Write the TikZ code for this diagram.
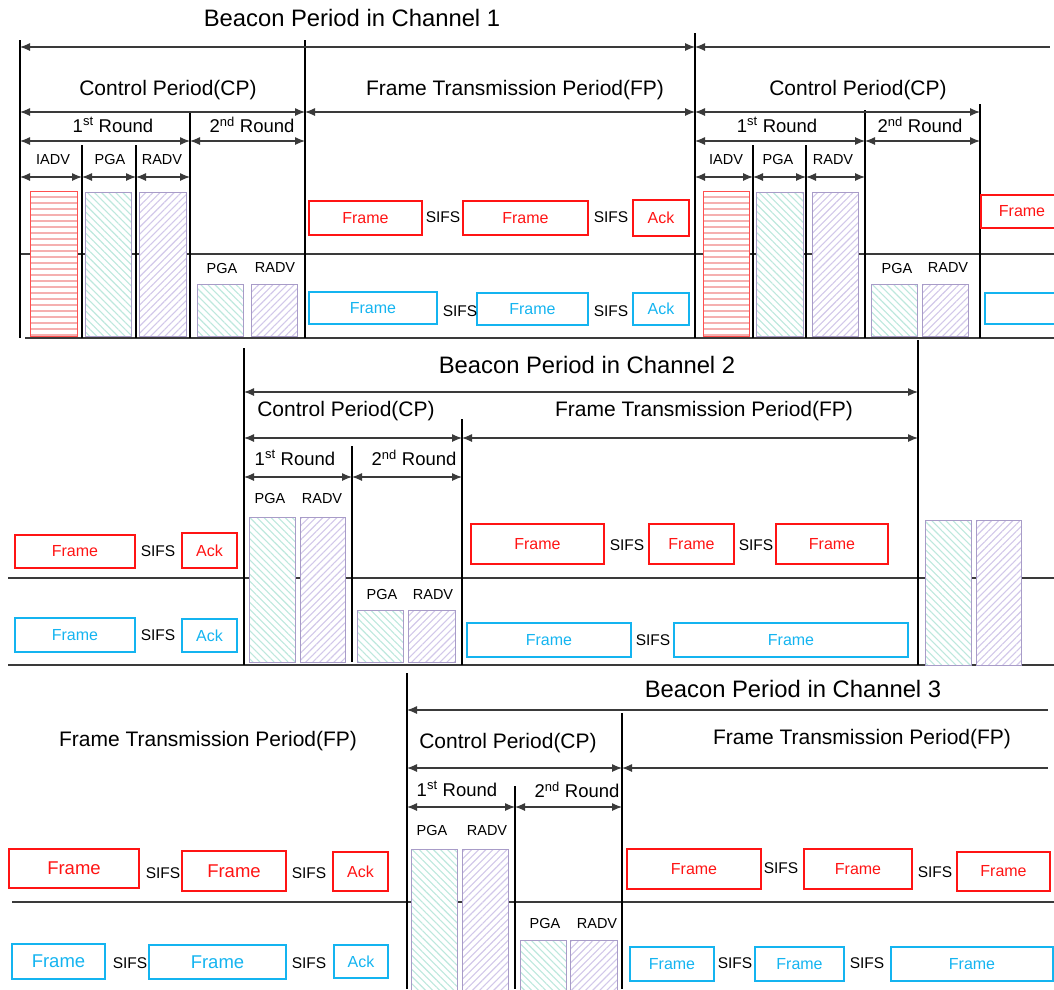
\documentclass[tikz,border=0pt]{standalone}
\usepackage{fontspec}
\setmainfont{Liberation Sans}
\usetikzlibrary{positioning,arrows.meta,patterns.meta}
\definecolor{axisgray}{HTML}{3A3A3A}
\definecolor{framered}{HTML}{FF1414}
\definecolor{frameblue}{HTML}{14B4F0}
\definecolor{iadvborder}{HTML}{FF5050}
\definecolor{iadvhatch}{HTML}{F5B0B0}
\definecolor{slotborder}{HTML}{A89CC8}
\definecolor{pgahatch}{HTML}{BDE8DD}
\definecolor{radvhatch}{HTML}{D2C8EA}

\begin{document}
\begin{tikzpicture}[
    x=1pt, y=-1pt,
    axis/.style={draw=axisgray, line width=1.2pt},
    dimarrow/.style={axisgray, line width=1.1pt, {Latex[length=10pt,width=8pt]}-{Latex[length=10pt,width=8pt]}},
    openarrow/.style={axisgray, line width=1.1pt, {Latex[length=10pt,width=8pt]}-},
    title/.style={font=\fontsize{23.8}{28}\selectfont},
    period/.style={font=\fontsize{21}{25}\selectfont},
    roundlbl/.style={font=\fontsize{18.5}{22}\selectfont},
    fieldlbl/.style={font=\fontsize{14.5}{17}\selectfont},
    sifs/.style={font=\fontsize{15.5}{18}\selectfont},
    RFrame/.style={draw=framered, text=framered, line width=1.8pt, inner sep=0pt, font=\fontsize{16}{19}\selectfont},
    BFrame/.style={draw=frameblue, text=frameblue, line width=1.8pt, inner sep=0pt, font=\fontsize{16}{19}\selectfont},
    big/.style={font=\fontsize{18.5}{22}\selectfont},
    iadvbox/.style={draw=iadvborder, line width=1pt, preaction={fill=white},
        pattern={Lines[angle=0,distance=6pt,line width=2pt]}, pattern color=iadvhatch},
    pgabox/.style={draw=slotborder, line width=1pt, preaction={fill=white},
        pattern={Lines[angle=-45,distance=5pt,line width=1.1pt]}, pattern color=pgahatch},
    radvbox/.style={draw=slotborder, line width=1pt, preaction={fill=white},
        pattern={Lines[angle=45,distance=5pt,line width=1.1pt]}, pattern color=radvhatch}
    ]
    \clip (0,0) rectangle (1054,989);

    % ---- Channel 1 ----
    \draw[axis] (20,254) -- (1054,254);
    \draw[axis] (25,338) -- (1054,338);
    \foreach \x/\a/\b in {20/40/338, 305/40/338, 695/33/338, 980/104/338, 190/112/338,
                          82/145/338, 136/145/338, 865/110/338, 753/145/338, 806/145/338}
        \draw[axis, draw=black] (\x,\a) -- (\x,\b);
    \draw[dimarrow] (20,47) -- (695,47);
    \draw[openarrow] (695,47) -- (1050,47);
    \foreach \a/\b/\y in {20/305/112, 305/695/112, 695/980/112,
                          20/190/141, 190/305/141, 695/865/141, 865/980/141,
                          20/82/177, 82/136/177, 136/190/177, 695/753/177, 753/806/177, 806/865/177}
        \draw[dimarrow] (\a,\y) -- (\b,\y);

    \node[title] (bp1) at (352,18) {Beacon Period in Channel 1};
    \node[period] (cp1) at (168,90) {Control Period(CP)};
    \node[period] (fp1) at (515,90) {Frame Transmission Period(FP)};
    \node[period] (cp1b) at (858,90) {Control Period(CP)};
    \node[roundlbl] (r1a) at (113,125) {1\textsuperscript{st} Round};
    \node[roundlbl] (r1b) at (252,125) {2\textsuperscript{nd} Round};
    \node[roundlbl] (r1c) at (777,125) {1\textsuperscript{st} Round};
    \node[roundlbl] (r1d) at (920,125) {2\textsuperscript{nd} Round};
    \node[fieldlbl] (iadv1) at (53,160) {IADV};
    \node[fieldlbl] (pga1) at (110,160) {PGA};
    \node[fieldlbl] (radv1) at (162,160) {RADV};
    \node[fieldlbl] (pga1b) at (222,268) {PGA};
    \node[fieldlbl] (radv1b) at (275,268) {RADV};
    \node[fieldlbl] (iadv1c) at (726,160) {IADV};
    \node[fieldlbl] (pga1c) at (778,160) {PGA};
    \node[fieldlbl] (radv1c) at (833,160) {RADV};
    \node[fieldlbl] (pga1d) at (897,268) {PGA};
    \node[fieldlbl] (radv1d) at (948,268) {RADV};

    \draw[iadvbox] (30,191) rectangle (77,336);
    \draw[pgabox] (85,192) rectangle (131,336);
    \draw[radvbox] (139,192) rectangle (186,336);
    \draw[pgabox] (197,284) rectangle (243,336);
    \draw[radvbox] (251,284) rectangle (297,336);
    \draw[iadvbox] (703,191) rectangle (749,336);
    \draw[pgabox] (756,192) rectangle (803,336);
    \draw[radvbox] (812,192) rectangle (858,336);
    \draw[pgabox] (871,284) rectangle (917,336);
    \draw[radvbox] (922,284) rectangle (968,336);

    \node[RFrame, minimum width=113, minimum height=34] (f1r1) at (365.5,218) {Frame};
    \node[RFrame, minimum width=125, minimum height=34] (f1r2) at (525.5,218) {Frame};
    \node[RFrame, minimum width=56, minimum height=36] (a1r) at (661,218) {Ack};
    \node[RFrame, minimum width=82, minimum height=33] (f1r3) at (1022,211.5) {Frame};
    \node[BFrame, minimum width=128, minimum height=32] (f1b1) at (373,308) {Frame};
    \node[BFrame, minimum width=111, minimum height=32] (f1b2) at (532.5,309) {Frame};
    \node[BFrame, minimum width=56, minimum height=32] (a1b) at (661,309) {Ack};
    \node[BFrame, minimum width=90, minimum height=31] (f1b3) at (1030,308.5) {};
    \node[sifs] (s1a) at (443,217) {SIFS};
    \node[sifs] (s1b) at (611,217) {SIFS};
    \node[sifs] (s1c) at (460,311) {SIFS};
    \node[sifs] (s1d) at (611,311) {SIFS};

    % ---- Channel 2 ----
    \draw[axis] (8,578) -- (1054,578);
    \draw[axis] (8,665) -- (1054,665);
    \foreach \x/\a/\b in {244/348/665, 462/419/665, 352/446/662, 918/340/665}
        \draw[axis, draw=black] (\x,\a) -- (\x,\b);
    \draw[dimarrow] (244,392) -- (918,392);
    \foreach \a/\b/\y in {244/462/438, 462/918/438, 244/352/477, 352/462/477}
        \draw[dimarrow] (\a,\y) -- (\b,\y);

    \node[title] (bp2) at (587,365) {Beacon Period in Channel 2};
    \node[period] (cp2) at (346,411) {Control Period(CP)};
    \node[period] (fp2) at (704,411) {Frame Transmission Period(FP)};
    \node[roundlbl] (r2a) at (295,458) {1\textsuperscript{st} Round};
    \node[roundlbl] (r2b) at (414,458) {2\textsuperscript{nd} Round};
    \node[fieldlbl] (pga2) at (270,498) {PGA};
    \node[fieldlbl] (radv2) at (322,498) {RADV};
    \node[fieldlbl] (pga2b) at (382,594) {PGA};
    \node[fieldlbl] (radv2b) at (433,594) {RADV};

    \draw[pgabox] (249,517) rectangle (295,662);
    \draw[radvbox] (300,517) rectangle (345,662);
    \draw[pgabox] (357,610) rectangle (403,662);
    \draw[radvbox] (408,610) rectangle (455,662);
    \draw[pgabox] (925,520) rectangle (971,665);
    \draw[radvbox] (976,520) rectangle (1021,665);

    \node[RFrame, minimum width=120, minimum height=33] (f2r1) at (75,551.5) {Frame};
    \node[RFrame, minimum width=55, minimum height=35] (a2r) at (209.5,550.5) {Ack};
    \node[BFrame, minimum width=120, minimum height=34] (f2b1) at (75,635) {Frame};
    \node[BFrame, minimum width=55, minimum height=33] (a2b) at (209.5,635.5) {Ack};
    \node[RFrame, minimum width=133, minimum height=40] (f2r2) at (537.5,544) {Frame};
    \node[RFrame, minimum width=85, minimum height=40] (f2r3) at (691.5,544) {Frame};
    \node[RFrame, minimum width=112, minimum height=40] (f2r4) at (832,544) {Frame};
    \node[BFrame, minimum width=164, minimum height=34] (f2b2) at (549,640) {Frame};
    \node[BFrame, minimum width=234, minimum height=34] (f2b3) at (791,640) {Frame};
    \node[sifs] (s2a) at (158,551) {SIFS};
    \node[sifs] (s2b) at (158,635) {SIFS};
    \node[sifs] (s2c) at (627,545) {SIFS};
    \node[sifs] (s2d) at (756,545) {SIFS};
    \node[sifs] (s2e) at (653,640) {SIFS};

    % ---- Channel 3 ----
    \draw[axis] (12,902) -- (1054,902);
    \foreach \x/\a/\b in {407/673/989, 622/713/989, 515/786/989}
        \draw[axis, draw=black] (\x,\a) -- (\x,\b);
    \draw[openarrow] (407,710) -- (1048,710);
    \draw[openarrow] (622,768) -- (1048,768);
    \foreach \a/\b/\y in {407/622/768, 407/515/807, 515/622/807}
        \draw[dimarrow] (\a,\y) -- (\b,\y);

    \node[title] (bp3) at (793,689) {Beacon Period in Channel 3};
    \node[period] (fp3a) at (208,741) {Frame Transmission Period(FP)};
    \node[period] (cp3) at (508,743) {Control Period(CP)};
    \node[period] (fp3b) at (862,739) {Frame Transmission Period(FP)};
    \node[roundlbl] (r3a) at (457,789) {1\textsuperscript{st} Round};
    \node[roundlbl] (r3b) at (577,790) {2\textsuperscript{nd} Round};
    \node[fieldlbl] (pga3) at (432,830) {PGA};
    \node[fieldlbl] (radv3) at (487,830) {RADV};
    \node[fieldlbl] (pga3b) at (545,923) {PGA};
    \node[fieldlbl] (radv3b) at (597,923) {RADV};

    \draw[pgabox] (411,849) rectangle (457,992);
    \draw[radvbox] (462,849) rectangle (508,992);
    \draw[pgabox] (520,940) rectangle (566,992);
    \draw[radvbox] (570,940) rectangle (617,992);

    \node[RFrame, big, minimum width=130, minimum height=39] (f3r1) at (74,868.5) {Frame};
    \node[RFrame, big, minimum width=104, minimum height=40] (f3r2) at (234,871) {Frame};
    \node[RFrame, minimum width=55, minimum height=39] (a3r) at (360.5,871.5) {Ack};
    \node[BFrame, big, minimum width=93, minimum height=35] (f3b1) at (58.5,961.5) {Frame};
    \node[BFrame, big, minimum width=137, minimum height=34] (f3b2) at (217.5,962) {Frame};
    \node[BFrame, minimum width=54, minimum height=33] (a3b) at (361,961.5) {Ack};
    \node[RFrame, minimum width=134, minimum height=40] (f3r3) at (694,869) {Frame};
    \node[RFrame, minimum width=108, minimum height=40] (f3r4) at (858,869) {Frame};
    \node[RFrame, minimum width=93, minimum height=39] (f3r5) at (1003.5,871.5) {Frame};
    \node[BFrame, minimum width=84, minimum height=34] (f3b3) at (672,964) {Frame};
    \node[BFrame, minimum width=89, minimum height=34] (f3b4) at (799.5,964) {Frame};
    \node[BFrame, minimum width=162, minimum height=34] (f3b5) at (972,964) {Frame};
    \node[sifs] (s3a) at (163,873) {SIFS};
    \node[sifs] (s3b) at (309,873) {SIFS};
    \node[sifs] (s3c) at (130,963) {SIFS};
    \node[sifs] (s3d) at (309,963) {SIFS};
    \node[sifs] (s3e) at (781,868) {SIFS};
    \node[sifs] (s3f) at (935,872) {SIFS};
    \node[sifs] (s3g) at (735,963) {SIFS};
    \node[sifs] (s3h) at (867,963) {SIFS};
\end{tikzpicture}
\end{document}
